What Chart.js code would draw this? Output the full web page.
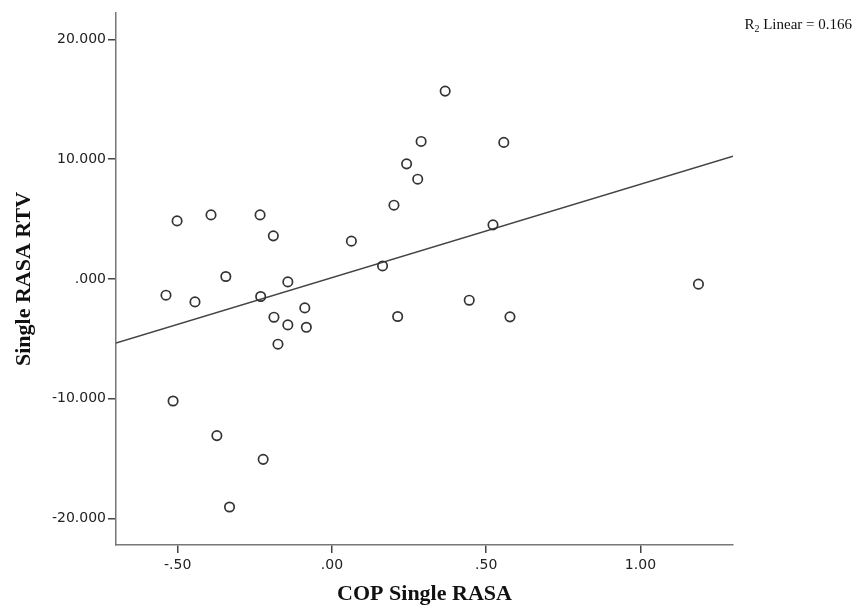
<!DOCTYPE html>
<html>
<head>
<meta charset="utf-8">
<script src="https://cdn.jsdelivr.net/npm/chart.js@4/dist/chart.umd.min.js"></script>
<style>
  html, body { margin: 0; padding: 0; background: #fff; }
  #wrap { width: 858px; height: 606px; }
</style>
</head>
<body>
<div id="wrap"><canvas id="myChart" width="858" height="606"></canvas></div>
<script>
// COP Single RASA (x) vs Single RASA RTV (y)
let copX = [-0.502, -0.392, -0.233, -0.190, 0.063, -0.344, -0.143, -0.538, -0.444, -0.231,
            -0.088, -0.188, -0.143, -0.083, -0.175, 0.367, 0.289, 0.557, 0.242, 0.278,
            0.201, 0.522, 0.164, 0.445, 0.213, 0.577, -0.332, -0.515, -0.373, -0.223, 1.188];
let rtvY = [4.85, 5.35, 5.35, 3.60, 3.16, 0.21, -0.24, -1.35, -1.91, -1.46,
            -2.41, -3.19, -3.83, -4.03, -5.44, 15.68, 11.48, 11.40, 9.61, 8.33,
            6.16, 4.52, 1.09, -1.77, -3.13, -3.16, -19.03, -10.18, -13.07, -15.05, -0.43];

// fit line ends
let fitX = [-0.7, 1.3];
let fitY = [-5.34, 10.25];

let xTicks = [-0.5, 0, 0.5, 1.0];
let yTicks = [-20, -10, 0, 10, 20];
let rSquared = '0.166';

function spssNum(v, d) {
    return v.toFixed(d).replace(/^(-?)0\./, '$1.');
}

let points = copX.map((x, i) => ({ x: x, y: rtvY[i] }));
let fitLine = fitX.map((x, i) => ({ x: x, y: fitY[i] }));

// R2 label top right
const rLabel = {
    id: 'rLabel',
    afterDraw(chart) {
        let ctx = chart.ctx;
        ctx.save();
        ctx.fillStyle = '#111';
        ctx.textBaseline = 'alphabetic';
        ctx.font = '15px "Liberation Serif"';
        let rest = ' Linear = ' + rSquared;
        let wR = ctx.measureText('R').width;
        let wRest = ctx.measureText(rest).width;
        ctx.font = '10px "Liberation Serif"';
        let w2 = ctx.measureText('2').width;
        let right = 852, base = 29;
        let x = right - wRest - w2 - wR;
        ctx.font = '15px "Liberation Serif"';
        ctx.fillText('R', x, base);
        ctx.font = '10px "Liberation Serif"';
        ctx.fillText('2', x + wR, base + 3);
        ctx.font = '15px "Liberation Serif"';
        ctx.fillText(rest, x + wR + w2, base);
        ctx.restore();
    }
};

let tickFont = { family: '"DejaVu Sans"', size: 14 };
let titleFont = { family: '"Liberation Serif"', size: 22, weight: 'bold' };

let ctx = document.getElementById('myChart').getContext('2d');
let chart = new Chart(ctx, {
    type: 'scatter',
    data: {
        datasets: [{
            label: 'RTV',
            data: points,
            pointRadius: 4.7,
            pointHoverRadius: 4.7,
            pointBorderWidth: 1.7,
            borderColor: '#333',
            backgroundColor: 'rgba(255,255,255,0)'
        }, {
            type: 'line',
            label: 'Linear',
            data: fitLine,
            borderColor: '#444',
            borderWidth: 1.4,
            pointRadius: 0,
            tension: 0,
            fill: false
        }]
    },
    options: {
        responsive: false,
        animation: false,
        events: [],
        layout: { padding: { left: 0, top: 13, right: 125, bottom: 0 } },
        plugins: { legend: { display: false }, tooltip: { enabled: false } },
        scales: {
            x: {
                type: 'linear',
                min: -0.7,
                max: 1.3,
                afterFit: s => { s.height = 61; },
                afterBuildTicks: s => { s.ticks = xTicks.map(v => ({ value: v })); },
                border: { display: true, color: '#777', width: 1.5 },
                grid: { display: true, drawOnChartArea: false, drawTicks: true, tickLength: 8, color: '#444', lineWidth: 1.5 },
                ticks: {
                    font: tickFont, color: '#222', padding: 4, maxRotation: 0,
                    callback: v => spssNum(v, 2)
                },
                title: {
                    display: true, text: 'COP Single RASA', font: titleFont, color: '#111',
                    padding: { top: 0, bottom: -2 }
                }
            },
            y: {
                type: 'linear',
                min: -22.2,
                max: 22.2,
                afterFit: s => { s.width = 116; },
                afterBuildTicks: s => { s.ticks = yTicks.map(v => ({ value: v })); },
                border: { display: true, color: '#777', width: 1.5 },
                grid: { display: true, drawOnChartArea: false, drawTicks: true, tickLength: 8, color: '#444', lineWidth: 1.5 },
                ticks: {
                    font: tickFont, color: '#222', padding: 2,
                    callback: v => spssNum(v, 3)
                },
                title: {
                    display: true, text: 'Single RASA RTV', font: titleFont, color: '#111',
                    padding: { top: 11, bottom: 0 }
                }
            }
        }
    },
    plugins: [rLabel]
});
</script>
</body>
</html>
